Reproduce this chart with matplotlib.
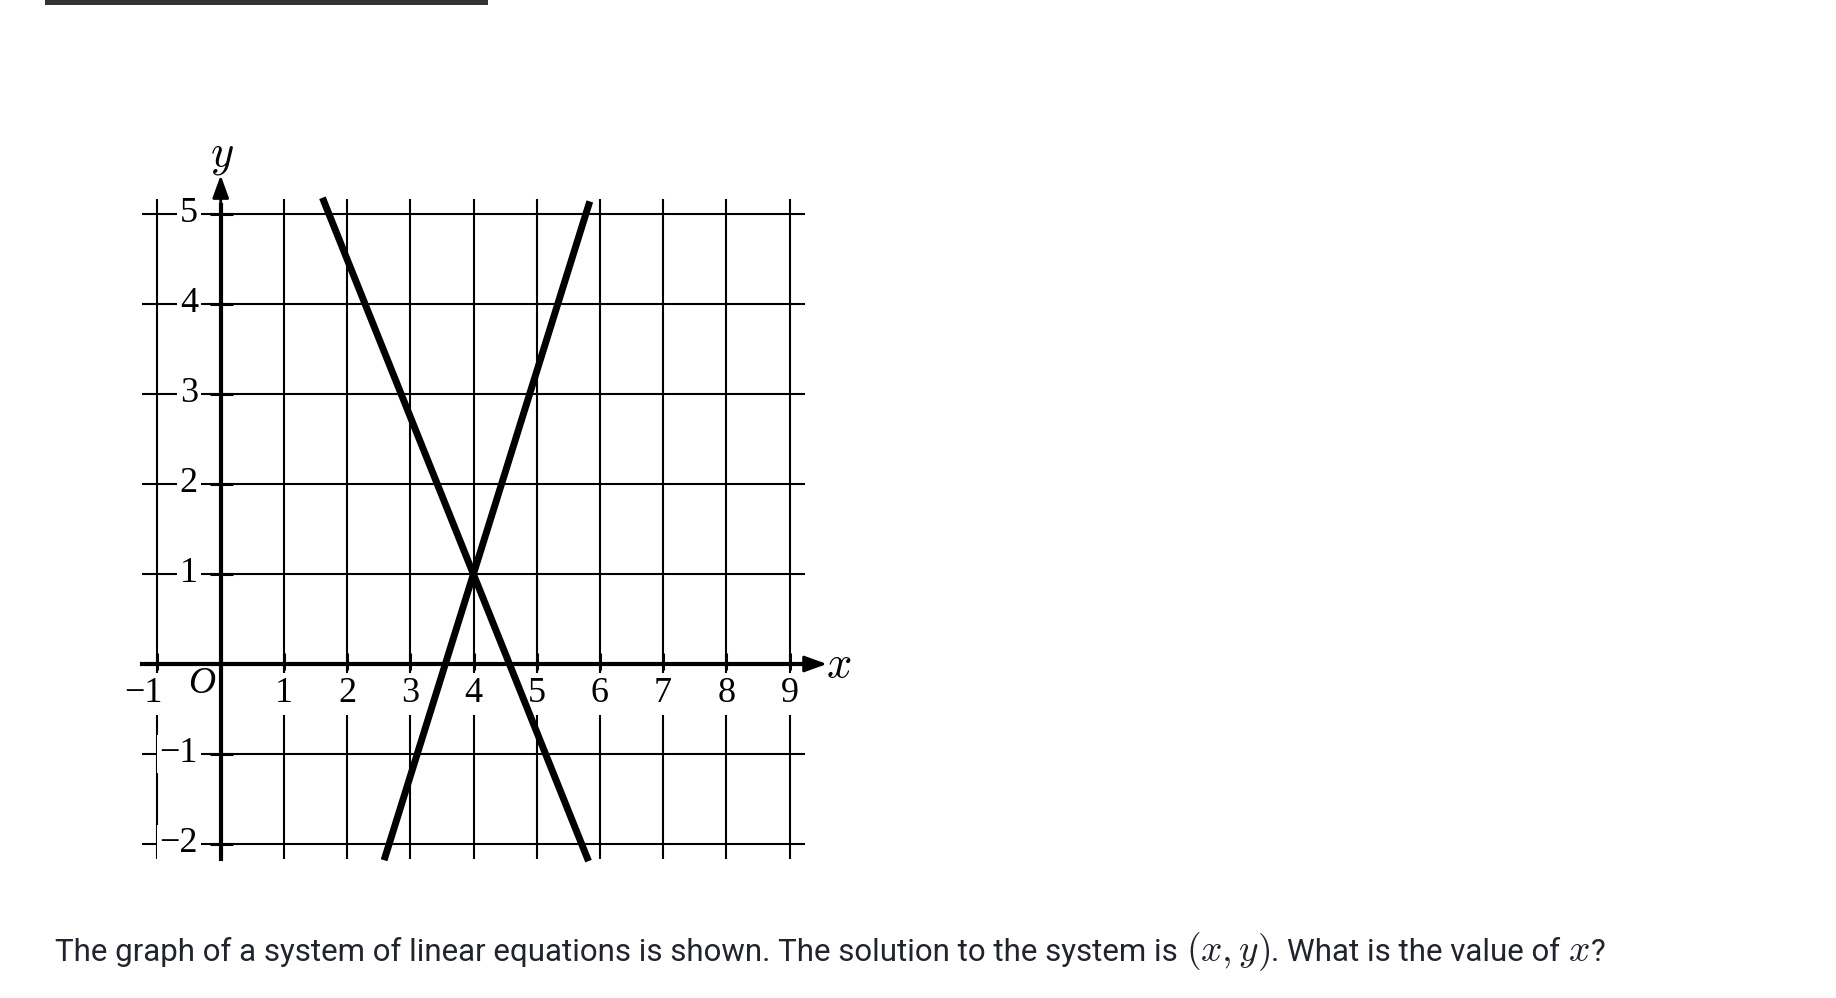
import matplotlib
matplotlib.use('Agg')
import matplotlib.pyplot as plt
from matplotlib.patches import Rectangle

# ~~~ DATA ~~~~~~~~~~~~~~~~~~~~~~~~~~~~~~~~~~~~~~~~~~~~~~~~~~~~~~~~~~~~~~~~~~~
grid_x = [-1, 0, 1, 2, 3, 4, 5, 6, 7, 8, 9]
grid_y = [-2, -1, 0, 1, 2, 3, 4, 5]
x_ticks = [-1, 1, 2, 3, 4, 5, 6, 7, 8, 9]
x_tick_labels = ['\u22121', '1', '2', '3', '4', '5', '6', '7', '8', '9']
y_ticks = [-2, -1, 1, 2, 3, 4, 5]
y_tick_labels = ['\u22122', '\u22121', '1', '2', '3', '4', '5']

# two lines crossing at (4, 1)
line_a_x = [1.61, 5.82]
line_a_y = [5.18, -2.19]
line_b_x = [2.585, 5.84]
line_b_y = [-2.18, 5.14]

# question text, (piece, is_math)
question = [
    ('The graph of a system of linear equations is shown. '
     'The solution to the system is ', False),
    ('$(x, y)$', True),
    ('. What is the value of ', False),
    ('$x$', True),
    ('?', False),
]

# ~~~ LAYOUT ~~~~~~~~~~~~~~~~~~~~~~~~~~~~~~~~~~~~~~~~~~~~~~~~~~~~~~~~~~~~~~~~~
W, H = 1836, 998
px0, py0 = 220.7, 664.0   # pixel of the origin
sx, sy = 63.2, 90.0       # pixels per unit
xlim = (-2.0, 10.5)
ylim = (-2.6, 5.9)

plt.rcParams['mathtext.fontset'] = 'cm'
serif = 'Liberation Serif'

fig = plt.figure(figsize=(W / 100, H / 100), dpi=100)
left = (px0 + sx * xlim[0]) / W
width = sx * (xlim[1] - xlim[0]) / W
bottom = 1 - (py0 - sy * ylim[0]) / H
height = sy * (ylim[1] - ylim[0]) / H
ax = fig.add_axes([left, bottom, width, height])
ax.set_xlim(*xlim)
ax.set_ylim(*ylim)
ax.axis('off')

# grid
ax.vlines(grid_x, -2.17, 5.17, color='black', lw=1.5, zorder=1)
ax.hlines(grid_y, -1.24, 9.24, color='black', lw=1.5, zorder=1)

# tick labels with white background to break the grid
for x, lab in zip(x_ticks, x_tick_labels):
    if x < 0:
        ax.text(x + 0.08, -0.33, lab, ha='right', va='center', fontsize=26,
                family=serif, zorder=2,
                bbox=dict(facecolor='white', edgecolor='none', pad=3))
    else:
        ax.text(x, -0.33, lab, ha='center', va='center', fontsize=26,
                family=serif, zorder=2,
                bbox=dict(facecolor='white', edgecolor='none', pad=3))
for y, lab in zip(y_ticks, y_tick_labels):
    ax.text(-0.36, y, lab, ha='right', va='center', fontsize=26,
            family=serif, zorder=2,
            bbox=dict(facecolor='white', edgecolor='none', pad=2))
ax.text(-0.30, -0.22, 'O', ha='center', va='center', fontsize=27,
        family=serif, style='italic', zorder=2)

# the two lines
ax.plot(line_a_x, line_a_y, color='black', lw=5, solid_capstyle='butt', zorder=3)
ax.plot(line_b_x, line_b_y, color='black', lw=5, solid_capstyle='butt', zorder=3)

# axes with arrows
ax.plot([-1.24, 9.2], [0, 0], color='black', lw=3, zorder=4)
ax.plot([0, 0], [-2.17, 5.1], color='black', lw=3, zorder=4)
ax.annotate('', xy=(9.59, 0), xytext=(9.0, 0), zorder=4,
            arrowprops=dict(arrowstyle='-|>,head_length=0.55,head_width=0.2',
                            lw=2, color='black', mutation_scale=25,
                            shrinkA=0, shrinkB=0))
ax.annotate('', xy=(0, 5.43), xytext=(0, 5.0), zorder=4,
            arrowprops=dict(arrowstyle='-|>,head_length=0.55,head_width=0.2',
                            lw=2, color='black', mutation_scale=25,
                            shrinkA=0, shrinkB=0))
ax.vlines(x_ticks, -0.07, 0.12, color='black', lw=2.2, zorder=4)
ax.hlines(y_ticks, -0.17, 0.19, color='black', lw=2.2, zorder=4)
ax.text(9.78, 0.0, '$x$', ha='center', va='center', fontsize=32)
ax.text(0.02, 5.65, '$y$', ha='center', va='center', fontsize=32)

# top bar
fig.add_artist(Rectangle((45 / W, 1 - 5 / H), 443 / W, 5 / H,
                         transform=fig.transFigure, color='#333333', lw=0))

# question text, pieces placed one after another
renderer = fig.canvas.get_renderer()
xpos = 55.0
for piece, is_math in question:
    size = 27 if is_math else 22.5
    t = fig.text(xpos / W, 1 - 961 / H, piece, fontsize=size, family='Roboto',
                 color='#21242c', ha='left', va='baseline')
    bb = t.get_window_extent(renderer)
    xpos = bb.x1 + (1 if is_math else 0)

plt.savefig('out.png', dpi=100)
plt.close()
